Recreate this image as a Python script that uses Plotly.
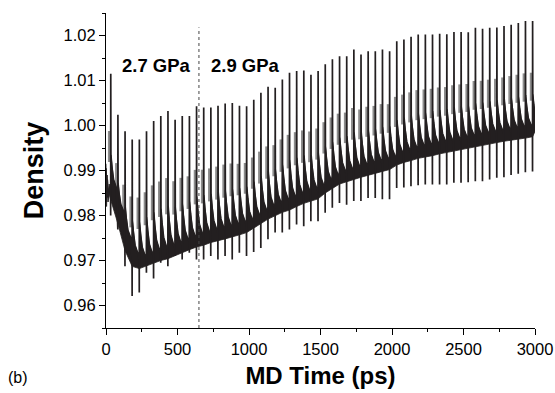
import plotly.graph_objects as go

# ---- data ----
# lead-in before the first spike (ps, density)
lead_t = [0, 4, 9, 15, 22, 28]
lead_d = [0.9905, 0.983, 0.988, 0.984, 0.986, 0.985]

# spike times (ps)
spike_t = [33, 83, 133, 183, 233, 283, 333, 383, 433, 483,
           533, 583, 633, 683, 733, 783, 833, 883, 933, 983,
           1033, 1083, 1133, 1183, 1233, 1283, 1333, 1383, 1433, 1483,
           1533, 1583, 1633, 1683, 1733, 1783, 1833, 1883, 1933, 1983,
           2033, 2083, 2133, 2183, 2233, 2283, 2333, 2383, 2433, 2483,
           2533, 2583, 2633, 2683, 2733, 2783, 2833, 2883, 2933, 2983]

# spike maxima
spike_top = [1.0115, 1.0024, 0.9987, 0.9969, 0.9969, 0.9987, 1.0010, 1.0021, 1.0032, 1.0013,
             1.0021, 1.0021, 1.0043, 1.0040, 1.0040, 1.0044, 1.0049, 1.0050, 1.0044, 1.0043,
             1.0057, 1.0073, 1.0086, 1.0084, 1.0102, 1.0117, 1.0121, 1.0122, 1.0113, 1.0121,
             1.0136, 1.0147, 1.0154, 1.0154, 1.0169, 1.0158, 1.0165, 1.0165, 1.0169, 1.0165,
             1.0187, 1.0191, 1.0197, 1.0202, 1.0202, 1.0202, 1.0204, 1.0203, 1.0208, 1.0208,
             1.0207, 1.0217, 1.0215, 1.0217, 1.0218, 1.0221, 1.0224, 1.0228, 1.0232, 1.0232]

# spike minima
spike_bot = [0.9800, 0.9769, 0.9687, 0.9621, 0.9629, 0.9673, 0.9660, 0.9695, 0.9687, 0.9710,
             0.9702, 0.9717, 0.9702, 0.9702, 0.9710, 0.9702, 0.9710, 0.9702, 0.9717, 0.9710,
             0.9719, 0.9728, 0.9747, 0.9762, 0.9762, 0.9769, 0.9780, 0.9776, 0.9787, 0.9787,
             0.9806, 0.9817, 0.9828, 0.9824, 0.9832, 0.9832, 0.9839, 0.9839, 0.9836, 0.9836,
             0.9861, 0.9862, 0.9865, 0.9867, 0.9869, 0.9869, 0.9869, 0.9869, 0.9873, 0.9873,
             0.9874, 0.9876, 0.9876, 0.9880, 0.9884, 0.9885, 0.9890, 0.9893, 0.9896, 0.9898]

# baseline density just before each spike
base = [0.9850, 0.9800, 0.9740, 0.9705, 0.9700, 0.9705, 0.9712, 0.9718, 0.9722, 0.9728,
        0.9735, 0.9742, 0.9748, 0.9752, 0.9758, 0.9762, 0.9766, 0.9770, 0.9775, 0.9780,
        0.9790, 0.9800, 0.9810, 0.9818, 0.9825, 0.9830, 0.9838, 0.9845, 0.9850, 0.9855,
        0.9868, 0.9878, 0.9888, 0.9893, 0.9898, 0.9903, 0.9908, 0.9912, 0.9916, 0.9920,
        0.9930, 0.9936, 0.9940, 0.9945, 0.9948, 0.9951, 0.9955, 0.9958, 0.9961, 0.9965,
        0.9968, 0.9971, 0.9974, 0.9977, 0.9980, 0.9983, 0.9986, 0.9988, 0.9990, 0.9993]

# relaxation after each spike (offset ps, fraction of spike height above baseline)
decay_dt = [1.5, 8, 20, 40]
decay_frac = [0.32, 0.22, 0.11, 0.04]
# grey shoulder seen just before each spike (offset ps, low/high fraction)
shoulder_dt = -9
shoulder_lo, shoulder_hi = 0.26, 0.52

band_half = 0.0018   # half-thickness of the noisy baseline below the relaxation

transition_t = 650
labels = [("2.7 GPa", 354), ("2.9 GPa", 977)]
label_y = 1.0133

# ---- build the traces ----
ink = "#231f20"
font_fam = "Liberation Sans, Arial, sans-serif"

line_x, line_y = list(lead_t), list(lead_d)
up_x, up_y = list(lead_t), [d + 0.001 for d in lead_d]
lo_x, lo_y = list(lead_t), [d - 0.001 for d in lead_d]
sh_x, sh_y = [], []
for t, top, bot, b in zip(spike_t, spike_top, spike_bot, base):
    h = top - b
    line_x += [t - 1.0, t - 0.3, t + 0.3]
    line_y += [b, bot, top]
    up_x.append(t - 1.0)
    up_y.append(b + 0.001)
    for dt, f in zip(decay_dt, decay_frac):
        line_x.append(t + dt)
        line_y.append(b + f * h)
        up_x.append(t + dt)
        up_y.append(b + f * h)
    lo_x.append(t)
    lo_y.append(b - band_half)
    sh_x += [t + shoulder_dt, t + shoulder_dt, None]
    sh_y += [b + shoulder_lo * h, b + shoulder_hi * h, None]

mass_x = up_x + lo_x[::-1]
mass_y = up_y + lo_y[::-1]

fig = go.Figure()
fig.add_trace(go.Scatter(x=sh_x, y=sh_y, mode="lines", line=dict(color="#8c8c8c", width=3),
                         hoverinfo="skip"))
fig.add_trace(go.Scatter(x=mass_x, y=mass_y, fill="toself", mode="lines",
                         line=dict(width=0.8, color=ink), fillcolor=ink, hoverinfo="skip"))
fig.add_trace(go.Scatter(x=line_x, y=line_y, mode="lines", line=dict(color=ink, width=1.7)))

fig.add_shape(type="line", x0=transition_t, x1=transition_t, y0=0.955, y1=1.0218,
              xref="x", yref="y", line=dict(color="#444444", width=1, dash="dot"))

for txt, tx in labels:
    fig.add_annotation(x=tx, y=label_y, text=f"<b>{txt}</b>", showarrow=False,
                       font=dict(size=18.5, color="black", family=font_fam))

fig.add_annotation(x=-0.205, y=-0.157, xref="paper", yref="paper", text="(b)",
                   xanchor="center", yanchor="middle",
                   showarrow=False, font=dict(size=16, color="black", family=font_fam))

axis_common = dict(showline=True, linecolor="black", linewidth=1, ticks="outside",
                   ticklen=6, tickwidth=1, tickcolor="black", showgrid=False,
                   zeroline=False, mirror=False, automargin=False,
                   tickfont=dict(size=16.5, color="black", family=font_fam))

fig.update_layout(
    width=555, height=393,
    margin=dict(l=106, r=20, t=13, b=65),
    paper_bgcolor="white", plot_bgcolor="white",
    showlegend=False,
    xaxis=dict(range=[0, 3000], tickvals=[0, 500, 1000, 1500, 2000, 2500, 3000],
               minor=dict(dtick=250, ticks="outside", ticklen=3, tickcolor="black"),
               title=dict(text="<b>MD Time (ps)</b>", standoff=10,
                          font=dict(size=24, color="black", family=font_fam)),
               **axis_common),
    yaxis=dict(range=[0.955, 1.025], tickvals=[0.96, 0.97, 0.98, 0.99, 1.00, 1.01, 1.02],
               tickformat=".2f",
               minor=dict(dtick=0.005, tick0=0.955, ticks="outside", ticklen=3, tickcolor="black"),
               title=dict(text="<b>Density</b>", standoff=12,
                          font=dict(size=27, color="black", family=font_fam)),
               **axis_common),
)

fig.write_html("out.html")
